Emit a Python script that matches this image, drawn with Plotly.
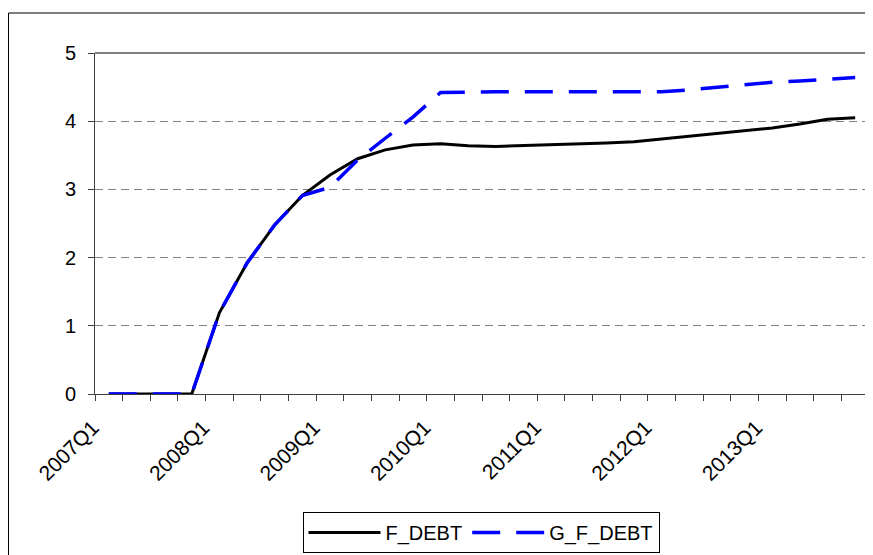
import plotly.graph_objects as go

quarters = [f"{y}Q{q}" for y in range(2007, 2014) for q in range(1, 5)]
tick_labels = ["2007Q1", "2008Q1", "2009Q1", "2010Q1", "2011Q1", "2012Q1", "2013Q1"]

f_debt = [0, 0, 0, 0, 1.19, 1.92, 2.48, 2.91, 3.21, 3.45, 3.58, 3.65, 3.67, 3.64,
          3.63, 3.64, 3.65, 3.67, 3.68, 3.70, 3.74, 3.78, 3.82, 3.87, 3.90, 3.96, 4.03, 4.05]
g_f_debt = [0, 0, 0, 0, 1.19, 1.92, 2.48, 2.91, 3.03, 3.43, 3.75, 4.06, 4.42, 4.43,
            4.43, 4.43, 4.43, 4.43, 4.43, 4.43, 4.43, 4.46, 4.50, 4.53, 4.57, 4.59, 4.62, 4.64]

FONT = "Liberation Sans, Arial, sans-serif"

fig = go.Figure()
fig.add_trace(go.Scatter(x=quarters, y=f_debt, mode="lines", name="F_DEBT",
                         line=dict(color="black", width=3)))
fig.add_trace(go.Scatter(x=quarters, y=g_f_debt, mode="lines", name="G_F_DEBT",
                         line=dict(color="#0000ff", width=3.5, dash="28px,16px")))

# page body has an 8px margin; the figure is sized so it fills the 873x555 window
OFF = 8
W, H = 873 - OFF, 555 - OFF
L, R, T, B = 95 - OFF, 4, 53 - OFF, 161
pw, ph = W - L - R, H - T - B

fig.update_layout(
    width=W, height=H,
    margin=dict(l=L, r=R, t=T, b=B, autoexpand=False),
    paper_bgcolor="white", plot_bgcolor="white",
    font=dict(family=FONT, color="black", size=18),
    showlegend=True,
    legend=dict(orientation="h", x=(481 - OFF - L) / pw, xanchor="center",
                y=(T + ph - (512 - OFF)) / ph, yanchor="top", itemwidth=72,
                bordercolor="black", borderwidth=1, bgcolor="white",
                font=dict(size=20, family=FONT)),
    xaxis=dict(type="category", categoryorder="array", categoryarray=quarters,
               range=[-0.5, len(quarters) - 0.5], automargin=False,
               tickmode="array", tickvals=quarters,
               ticktext=[q if q in tick_labels else "" for q in quarters],
               tickson="boundaries", ticks="outside", ticklen=6, tickcolor="#404040",
               tickangle=-45, showline=True, linecolor="#404040", linewidth=1,
               showgrid=False, zeroline=False, tickfont=dict(size=21),
               ticklabelstandoff=12, ticklabelshift=-16),
    yaxis=dict(range=[0, 5], dtick=1, ticks="outside", ticklen=6, tickcolor="#404040",
               showline=True, linecolor="#404040", linewidth=1, automargin=False,
               showgrid=True, gridcolor="#808080", gridwidth=1, griddash="8px,5px",
               zeroline=False, tickfont=dict(size=20), ticklabelstandoff=8),
    shapes=[
        dict(type="line", xref="paper", yref="paper", x0=0, x1=1, y0=1, y1=1,
             line=dict(color="#808080", width=2), layer="above"),
        dict(type="line", xref="paper", yref="paper", x0=1, x1=1, y0=0, y1=1,
             line=dict(color="#808080", width=2), layer="above"),
        dict(type="rect", xref="paper", yref="paper",
             x0=(0.5 - L) / pw, x1=(W + 10 - L) / pw,
             y0=(T + ph - (H + 10)) / ph, y1=(T + ph - (13 - OFF)) / ph,
             line=dict(color="black", width=1), fillcolor="rgba(0,0,0,0)", layer="above"),
    ],
)

fig.write_html("out.html")
